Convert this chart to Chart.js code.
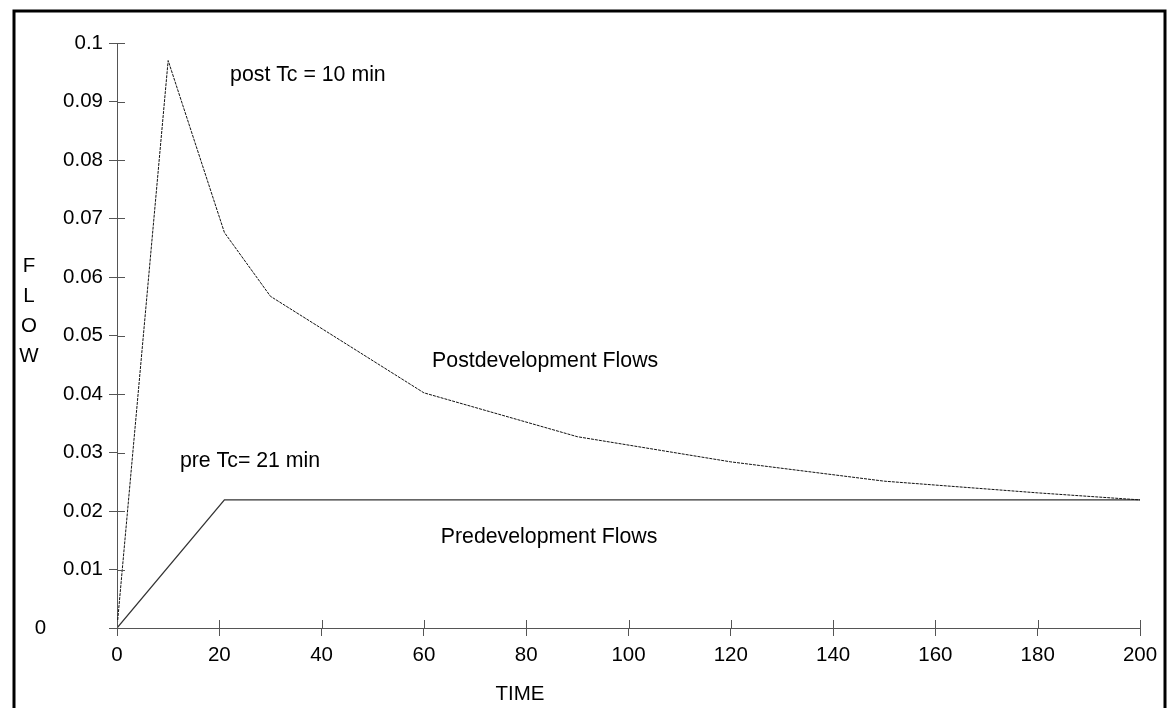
<!DOCTYPE html>
<html>
<head>
<meta charset="utf-8">
<script src="https://cdn.jsdelivr.net/npm/chart.js@4/dist/chart.umd.min.js"></script>
<style>
    html, body { margin: 0; padding: 0; background: #fff; }
    #wrap { width: 1168px; height: 708px; position: relative; }
</style>
</head>
<body>
<div id="wrap"><canvas id="flow-chart"></canvas></div>
<script>
// time (min) and flow values
const postTimes = [0, 10, 21, 30, 60, 90, 120, 150, 180, 200];
const postFlows = [0, 0.097, 0.0676, 0.0567, 0.0402, 0.0327, 0.0284, 0.0251, 0.0231, 0.0219];
const preTimes = [0, 21, 30, 60, 90, 120, 150, 180, 200];
const preFlows = [0, 0.0219, 0.0219, 0.0219, 0.0219, 0.0219, 0.0219, 0.0219, 0.0219];

const xTicks = [0, 20, 40, 60, 80, 100, 120, 140, 160, 180, 200];
const yTicks = [0, 0.01, 0.02, 0.03, 0.04, 0.05, 0.06, 0.07, 0.08, 0.09, 0.1];

// notes placed in data units: [text, time, flow]
const notes = [
    ['post Tc = 10 min', 22.1, 0.0945],
    ['Postdevelopment Flows', 61.6, 0.0456],
    ['pre Tc= 21 min', 12.3, 0.0285],
    ['Predevelopment Flows', 63.3, 0.0156],
];

const axisColor = '#555';
const fontFamily = '"Liberation Sans", Arial, sans-serif';
const fontSize = 20.5;
const noteSize = 21.3;

Chart.defaults.font.family = fontFamily;
Chart.defaults.font.size = fontSize;
Chart.defaults.color = '#000';

function toPoints(xs, ys) {
    return xs.map((x, i) => ({ x, y: ys[i] }));
}

// frame round the whole figure
const framePlugin = {
    id: 'frame',
    beforeDraw(chart) {
        const ctx = chart.ctx;
        ctx.save();
        ctx.strokeStyle = '#000';
        ctx.lineWidth = 3;
        ctx.beginPath();
        ctx.moveTo(14, 720);
        ctx.lineTo(14, 11);
        ctx.lineTo(1165, 11);
        ctx.lineTo(1165, 720);
        ctx.stroke();
        ctx.restore();
    }
};

// ticks cross the axis: draw the inner half
const crossTicksPlugin = {
    id: 'crossTicks',
    afterDraw(chart) {
        const { ctx, scales: { x, y } } = chart;
        ctx.save();
        ctx.strokeStyle = axisColor;
        ctx.lineWidth = 1;
        ctx.beginPath();
        x.ticks.forEach((t) => {
            const px = Math.round(x.getPixelForValue(t.value)) + 0.5;
            ctx.moveTo(px, y.bottom);
            ctx.lineTo(px, y.bottom - 8);
        });
        y.ticks.forEach((t) => {
            const py = Math.round(y.getPixelForValue(t.value)) + 0.5;
            ctx.moveTo(x.left, py);
            ctx.lineTo(x.left + 8, py);
        });
        ctx.stroke();
        ctx.restore();
    }
};

const textPlugin = {
    id: 'labels',
    afterDraw(chart) {
        const { ctx, scales: { x, y } } = chart;
        ctx.save();
        ctx.fillStyle = '#000';
        ctx.font = `${noteSize}px ${fontFamily}`;
        ctx.textBaseline = 'middle';
        ctx.textAlign = 'left';
        notes.forEach(([text, t, f]) => {
            ctx.fillText(text, x.getPixelForValue(t), y.getPixelForValue(f));
        });

        // axis titles
        ctx.font = `${fontSize}px ${fontFamily}`;
        ctx.textAlign = 'center';
        ['F', 'L', 'O', 'W'].forEach((ch, i) => {
            ctx.fillText(ch, 29, 266 + i * 30);
        });
        ctx.fillText('TIME', 520, 694);
        ctx.restore();
    }
};

const chart = new Chart(document.getElementById('flow-chart'), {
    type: 'line',
    data: {
        datasets: [
            {
                label: 'Postdevelopment Flows',
                data: toPoints(postTimes, postFlows),
                borderColor: '#111',
                borderWidth: 1,
                borderDash: [3, 1],
                pointRadius: 0,
                tension: 0,
            },
            {
                label: 'Predevelopment Flows',
                data: toPoints(preTimes, preFlows),
                borderColor: '#333',
                borderWidth: 1.3,
                pointRadius: 0,
                tension: 0,
            },
        ]
    },
    options: {
        responsive: true,
        maintainAspectRatio: false,
        animation: false,
        layout: { padding: { left: 0, right: 28, top: 43, bottom: 0 } },
        plugins: {
            legend: { display: false },
            tooltip: { enabled: false },
        },
        scales: {
            x: {
                type: 'linear',
                min: 0,
                max: 200,
                afterBuildTicks: (scale) => {
                    scale.ticks = xTicks.map(v => ({ value: v }));
                },
                afterFit: (scale) => { scale.height = 80; },
                ticks: { padding: 7, maxRotation: 0, autoSkip: false, color: '#000' },
                grid: { drawOnChartArea: false, drawTicks: true, tickLength: 8, color: axisColor },
                border: { display: true, color: axisColor, width: 1 },
            },
            y: {
                min: 0,
                max: 0.1,
                afterBuildTicks: (scale) => {
                    scale.ticks = yTicks.map(v => ({ value: v }));
                },
                afterFit: (scale) => { scale.width = 117; },
                ticks: {
                    padding: 6,
                    autoSkip: false,
                    color: '#000',
                    // the zero label sits well away from the axis
                    callback: (v) => v === 0 ? '0' + ' '.repeat(10) : String(parseFloat(v.toFixed(2))),
                },
                grid: { drawOnChartArea: false, drawTicks: true, tickLength: 8, color: axisColor },
                border: { display: true, color: axisColor, width: 1 },
            }
        }
    },
    plugins: [framePlugin, crossTicksPlugin, textPlugin]
});
</script>
</body>
</html>
